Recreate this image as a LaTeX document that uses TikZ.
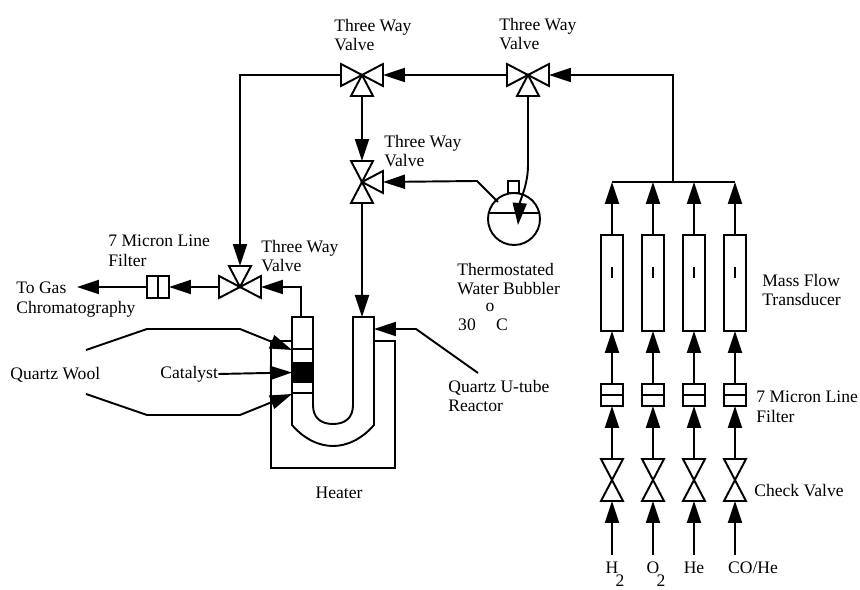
\documentclass[tikz,border=0pt]{standalone}
\usepackage{fontspec}
\setmainfont{Liberation Serif}
\usetikzlibrary{arrows.meta}

\begin{document}
\begin{tikzpicture}[
        x=0.02cm, y=-0.02cm,
        part/.style={draw, line width=1.1pt, line join=miter},
        flow/.style={-{Triangle[length=0.44cm, width=0.28cm]}, line width=1.1pt},
        valve/.style={rectangle, minimum size=0.84cm, inner sep=0pt, outer sep=0pt},
        wedge/.pic={\draw[part, fill=white] (0,0) -- (-21,-11) -- (-21,11) -- cycle;},
        filter/.style={draw, line width=1.1pt, rectangle, minimum size=0.44cm, inner sep=0pt, outer sep=0pt},
        meter/.style={draw, line width=1.1pt, rectangle, minimum width=0.44cm, minimum height=1.92cm, inner sep=0pt, outer sep=0pt},
        txt/.style={align=left, anchor=west, inner sep=0pt, font=\fontsize{10}{11.3}\selectfont}
    ]
        \useasboundingbox (0,0) rectangle (860,590);

        % Three way valves
        \node[valve] (valveA) at (362,75) {};
        \node[valve] (valveB) at (528,75) {};
        \node[valve] (valveC) at (362,182) {};
        \node[valve] (valveD) at (240,287) {};
        \foreach \v in {valveA, valveB, valveD} {
            \pic at (\v) {wedge};
            \pic[rotate=180] at (\v) {wedge};
        }
        \pic[rotate=90] at (valveA) {wedge};
        \pic[rotate=90] at (valveB) {wedge};
        \pic[rotate=-90] at (valveD) {wedge};
        \pic[rotate=-90] at (valveC) {wedge};
        \pic[rotate=90] at (valveC) {wedge};
        \pic[rotate=180] at (valveC) {wedge};

        \node[txt] (labelA) at (334,35) {Three Way\\Valve};
        \node[txt] (labelB) at (499,34) {Three Way\\Valve};
        \node[txt] (labelC) at (384,151) {Three Way\\Valve};
        \node[txt] (labelD) at (261,256) {Three Way\\Valve};

        % Gas lines
        \foreach \col/\xpos in {a/612, b/653, c/694, d/735} {
            \coordinate (feed\col) at (\xpos,555);
            \coordinate (joint\col) at (\xpos,182);
            \node[valve] (check\col) at (\xpos,480) {};
            \pic[rotate=-90] at (check\col) {wedge};
            \pic[rotate=90] at (check\col) {wedge};
            \node[filter] (filter\col) at (\xpos,395) {};
            \draw[part] (filter\col.west) -- (filter\col.east);
            \node[meter] (meter\col) at (\xpos,283) {};
            \draw[line width=1.5pt] (\xpos,267) -- (\xpos,278);

            \draw[flow] (feed\col) -- (check\col.south);
            \draw[flow] (check\col.north) -- (filter\col.south);
            \draw[flow] (filter\col.north) -- (meter\col.south);
            \draw[flow] (meter\col.north) -- (joint\col);
        }
        \draw[part] (jointa) -- (jointd);
        \coordinate (jointm) at (673,182);
        \draw[flow] (jointm) |- (valveB.east);

        \node[txt, anchor=center] (gasH) at (612,568) {H};
        \node[txt, anchor=center] (gasO) at (653,568) {O};
        \node[txt, anchor=center] (gasHe) at (694,568) {He};
        \node[txt, anchor=center] (gasCO) at (753,568) {CO/He};
        \node[txt, anchor=center] (subH) at (620,581) {2};
        \node[txt, anchor=center] (subO) at (661,581) {2};

        \node[txt] (labelMass) at (762,290) {Mass Flow\\Transducer};
        \node[txt] (labelLine) at (756,407) {7 Micron Line\\Filter};
        \node[txt] (labelCheck) at (754,491) {Check Valve};

        % Bubbler
        \node[draw, line width=1.1pt, circle, minimum size=1.04cm, inner sep=0pt, outer sep=0pt] (bubbler) at (514,219) {};
        \node[draw, line width=1.1pt, rectangle, minimum width=0.22cm, minimum height=0.24cm, inner sep=0pt, outer sep=0pt] (bubblercap) at (513.5,187) {};
        \draw[part] (488.7,213) -- (539.3,213);
        \coordinate (bubblerin) at (518,225);
        \coordinate (bubblerout) at (498,202);
        \draw[flow] (valveB.south) -- (528,165) .. controls (528,185) and (520,200) .. (bubblerin);
        \draw[flow] (bubblerout) -- (477,181) -- (valveC.east);
        \node[txt] (labelBubbler) at (457,279) {Thermostated\\Water Bubbler};
        \node[txt, anchor=center] (labelDeg) at (490,307) {o};
        \node[txt, anchor=center] (labelThirty) at (467,325) {30};
        \node[txt, anchor=center] (labelCel) at (502,325) {C};

        % Reactor
        \draw[part] (292,317) -- (292,425) .. controls (305,440) and (320,446) .. (333,446)
            .. controls (346,446) and (361,440) .. (374,425) -- (374,317) -- (353,317) -- (353,405)
            .. controls (353,418) and (345,424) .. (333,424) .. controls (321,424) and (313,418) .. (313,405)
            -- (313,317) -- cycle;
        \draw[part] (292,349) -- (313,349);
        \draw[part] (292,393) -- (313,393);
        \node[fill=black, minimum size=0.42cm, inner sep=0pt, outer sep=0pt] (catalyst) at (302.5,372.5) {};
        \coordinate (legL) at (301,317);
        \coordinate (legR) at (362,317);
        \coordinate (woolT) at (292,350);
        \coordinate (woolB) at (292,394);
        \coordinate (wallR) at (374,329);
        \coordinate (labelU) at (478,373);

        % Heater
        \draw[part] (292,341) -- (271,341) -- (271,468) -- (395,468) -- (395,341) -- (374,341);
        \node[txt, anchor=center] (labelHeater) at (339,493) {Heater};

        % Connections
        \draw[flow] (valveB.west) -- (valveA.east);
        \draw[flow] (valveA.west) -| (valveD.north);
        \draw[flow] (valveA.south) -- (valveC.north);
        \draw[flow] (valveC.south) -- (legR);
        \draw[flow] (legL) |- (valveD.east);

        \node[filter] (filterOut) at (158,287) {};
        \draw[part] (filterOut.north) -- (filterOut.south);
        \coordinate (gasOut) at (77,287);
        \draw[flow] (valveD.west) -- (filterOut.east);
        \draw[flow] (filterOut.west) -- (gasOut);
        \node[txt] (labelFilter) at (108,251) {7 Micron Line\\Filter};
        \node[txt] (labelGas) at (16,300) {To Gas\\Chromatography};

        % Reactor labels
        \node[txt] (labelWool) at (10,375) {Quartz Wool};
        \node[txt] (labelCat) at (160,374) {Catalyst};
        \node[txt] (labelReactor) at (448,396) {Quartz U-tube\\Reactor};
        \coordinate (woolTs) at (86,350);
        \coordinate (woolBs) at (86,394);
        \draw[flow] (woolTs) -- (147,329) -- (240,329) -- (woolT);
        \draw[flow] (woolBs) -- (147,415) -- (240,415) -- (woolB);
        \draw[flow] (labelCat.east) -- (catalyst.west);
        \draw[flow] (labelU) -- (416,329) -- (wallR);
    \end{tikzpicture}
\end{document}
